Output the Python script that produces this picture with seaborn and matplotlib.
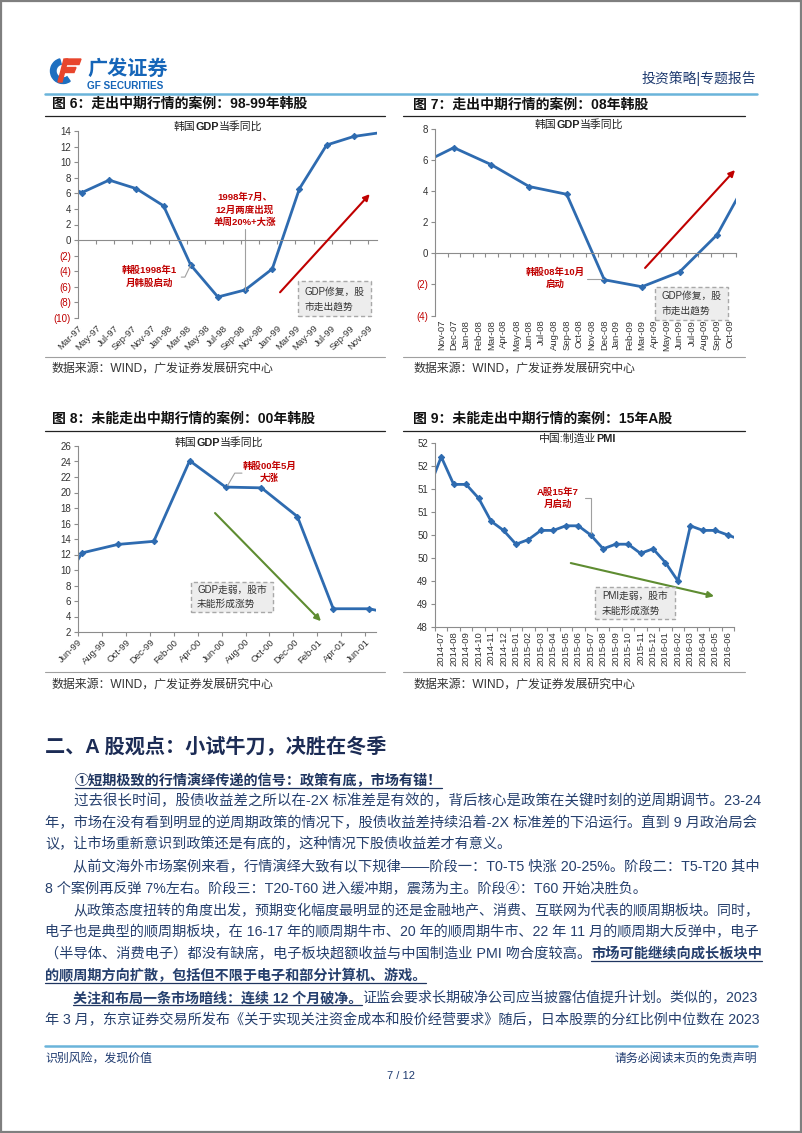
import numpy as np
import pandas as pd
import matplotlib
matplotlib.use('Agg')
import matplotlib.pyplot as plt
import seaborn as sns
from matplotlib.patches import Rectangle, Wedge, Polygon

sns.set_theme(style='white')
plt.rcParams['font.family'] = ['Liberation Sans', 'Noto Sans CJK SC', 'DejaVu Sans']
plt.rcParams['axes.unicode_minus'] = False

# ---------------- data ----------------
# Fig 6: Korea GDP yoy, x = months since Mar-97
f6_months = [-2.56, 0.44, 3.44, 6.44, 9.44, 12.44, 15.44, 18.44, 21.44, 24.44, 27.44, 30.44, 33.44]
f6_gdp = [7.5, 6.1, 7.7, 6.6, 4.4, -3.2, -7.3, -6.4, -3.7, 6.6, 12.2, 13.3, 13.8]
f6_tick_pos = [0, 2, 4, 6, 8, 10, 12, 14, 16, 18, 20, 22, 24, 26, 28, 30, 32]
f6_tick_labels = ['Mar-97', 'May-97', 'Jul-97', 'Sep-97', 'Nov-97', 'Jan-98', 'Mar-98', 'May-98',
                  'Jul-98', 'Sep-98', 'Nov-98', 'Jan-99', 'Mar-99', 'May-99', 'Jul-99', 'Sep-99', 'Nov-99']
f6_yticks = [-10, -8, -6, -4, -2, 0, 2, 4, 6, 8, 10, 12, 14]
f6_ylabels = ['(10)', '(8)', '(6)', '(4)', '(2)', '0', '2', '4', '6', '8', '10', '12', '14']

# Fig 7: Korea GDP yoy, monthly category axis
f7_categories = ['Nov-07', 'Dec-07', 'Jan-08', 'Feb-08', 'Mar-08', 'Apr-08', 'May-08', 'Jun-08',
                 'Jul-08', 'Aug-08', 'Sep-08', 'Oct-08', 'Nov-08', 'Dec-08', 'Jan-09', 'Feb-09',
                 'Mar-09', 'Apr-09', 'May-09', 'Jun-09', 'Jul-09', 'Aug-09', 'Sep-09', 'Oct-09']
f7_index = [-2, 1, 4, 7, 10, 13, 16, 19, 22, 25]
f7_gdp = [5.6, 6.8, 5.7, 4.3, 3.8, -1.7, -2.15, -1.2, 1.2, 5.6]
f7_yticks = [-4, -2, 0, 2, 4, 6, 8]
f7_ylabels = ['(4)', '(2)', '0', '2', '4', '6', '8']

# Fig 8: Korea GDP yoy, x = months since Jun-99
f8_months = [-2.67, 0.33, 3.33, 6.33, 9.33, 12.33, 15.33, 18.33, 21.33, 24.33, 27.33]
f8_gdp = [4.4, 12.2, 13.3, 13.7, 24.1, 20.7, 20.6, 16.9, 5.0, 5.0, 4.0]
f8_tick_pos = [0, 2, 4, 6, 8, 10, 12, 14, 16, 18, 20, 22, 24]
f8_tick_labels = ['Jun-99', 'Aug-99', 'Oct-99', 'Dec-99', 'Feb-00', 'Apr-00', 'Jun-00', 'Aug-00',
                  'Oct-00', 'Dec-00', 'Feb-01', 'Apr-01', 'Jun-01']
f8_yticks = [2, 4, 6, 8, 10, 12, 14, 16, 18, 20, 22, 24, 26]
f8_ylabels = ['2', '4', '6', '8', '10', '12', '14', '16', '18', '20', '22', '24', '26']

# Fig 9: China manufacturing PMI
f9_categories = ['2014-07', '2014-08', '2014-09', '2014-10', '2014-11', '2014-12', '2015-01', '2015-02',
                 '2015-03', '2015-04', '2015-05', '2015-06', '2015-07', '2015-08', '2015-09', '2015-10',
                 '2015-11', '2015-12', '2016-01', '2016-02', '2016-03', '2016-04', '2016-05', '2016-06']
f9_index = [-1, 0, 1, 2, 3, 4, 5, 6, 7, 8, 9, 10, 11, 12, 13, 14, 15, 16, 17, 18, 19, 20, 21, 22, 23, 24]
f9_pmi = [51.0, 51.7, 51.1, 51.1, 50.8, 50.3, 50.1, 49.8, 49.9, 50.1, 50.1, 50.2, 50.2,
          50.0, 49.7, 49.8, 49.8, 49.6, 49.7, 49.4, 49.0, 50.2, 50.1, 50.1, 50.0, 49.9]
f9_yticks = [48, 48.5, 49, 49.5, 50, 50.5, 51, 51.5, 52]
f9_ylabels = ['48', '49', '49', '50', '50', '51', '51', '52', '52']

# ---------------- figure ----------------
W, H = 802, 1133
fig = plt.figure(figsize=(W / 100, H / 100), dpi=100)
fig.patch.set_facecolor('white')

pax = fig.add_axes([0, 0, 1, 1], zorder=0)
pax.set_xlim(0, W)
pax.set_ylim(H, 0)
pax.axis('off')

renderer = fig.canvas.get_renderer()

LINE = '#2E6BB0'
RED = '#C00000'
GREEN = '#5E8C31'
NAVY = '#1F3B70'
BODY = '#26406E'
AXC = '#8C8C8C'
TXT = '#333333'


def add_ax(x0, y0, x1, y1):
    return fig.add_axes([x0 / W, 1 - y1 / H, (x1 - x0) / W, (y1 - y0) / H], zorder=1)


def seg_width(s, fs, bold):
    t = pax.text(0, 0, s, fontsize=fs, fontweight='bold' if bold else 'normal')
    w = t.get_window_extent(renderer=renderer).width
    t.remove()
    return w


def draw_segs(x, y, segs, fs, color, ha='left', underline_color=None):
    widths = [seg_width(s, fs, 'b' in st) for s, st in segs]
    total = sum(widths)
    if ha == 'center':
        x = x - total / 2
    elif ha == 'right':
        x = x - total
    base = y + 0.36 * fs * 100 / 72
    for (s, st), w in zip(segs, widths):
        pax.text(x, base, s, fontsize=fs, fontweight='bold' if 'b' in st else 'normal',
                 color=color, va='baseline', ha='left')
        if 'u' in st:
            pax.plot([x, x + w], [base + 3, base + 3], color=underline_color or color, lw=0.9)
        x += w
    return total


def style_chart(ax, xlim, ylim, yticks, ylabels, mark_pos, lab_pos, labels, rot, zero_axis):
    ax.set_facecolor('none')
    ax.set_xlim(*xlim)
    ax.set_ylim(*ylim)
    for s in ['top', 'right']:
        ax.spines[s].set_visible(False)
    for s in ['left', 'bottom']:
        ax.spines[s].set_color(AXC)
        ax.spines[s].set_linewidth(0.8)
    if zero_axis:
        ax.spines['bottom'].set_position(('data', 0))
    ax.set_yticks(yticks, labels=ylabels)
    ax.tick_params(axis='y', left=True, length=3, width=0.8, color=AXC, labelsize=7,
                   labelcolor=TXT, pad=2)
    for lbl in ax.get_yticklabels():
        if lbl.get_text().startswith('('):
            lbl.set_color(RED)
    ax.set_xticks(mark_pos)
    ax.tick_params(axis='x', bottom=True, length=3, width=0.8, color=AXC, labelbottom=False,
                   direction='out')
    ax.set_xlabel('')
    ax.set_ylabel('')
    sec = ax.secondary_xaxis('bottom')
    sec.spines['bottom'].set_visible(False)
    if rot == 45:
        sec.set_xticks(lab_pos, labels=labels, rotation=45, ha='right', va='top',
                       rotation_mode='anchor', fontsize=6.8, color=TXT)
        sec.tick_params(length=0, pad=4)
    else:
        sec.set_xticks(lab_pos, labels=labels, rotation=90, ha='center', va='top',
                       fontsize=6.8, color=TXT)
        sec.tick_params(length=0, pad=3)


def plot_line(ax, xs, ys):
    sns.lineplot(x=xs, y=ys, ax=ax, color=LINE, linewidth=2.0, marker='D', markersize=3.2,
                 markeredgecolor=LINE, sort=False, estimator=None)


def note_box(ax, x0, x1, y0, y1, text):
    ax.add_patch(Rectangle((x0, y0), x1 - x0, y1 - y0, facecolor='#EDEDED', edgecolor='#A8A8A8',
                           linestyle=(0, (3, 2)), lw=1.0, clip_on=False, zorder=3))
    ax.text((x0 + x1) / 2, (y0 + y1) / 2, text, fontsize=7, color=TXT, ha='center', va='center',
            multialignment='left', linespacing=1.6, zorder=4)


def arrow(ax, start, end, color):
    ax.annotate('', xy=end, xytext=start, annotation_clip=False,
                arrowprops=dict(arrowstyle='-|>', color=color, lw=1.5, mutation_scale=9,
                                shrinkA=0, shrinkB=0))


def red_note(ax, x, y, text):
    ax.text(x, y, text, fontsize=6.8, fontweight='bold', color=RED, ha='center', va='center',
            linespacing=1.45, zorder=4)


def leader(ax, xs, ys):
    ax.plot(xs, ys, color='#A0A0A0', lw=0.8, clip_on=False, zorder=2)


# ---------------- page frame / header ----------------
pax.add_patch(Rectangle((1, 1), W - 2, H - 2, fill=False, ec='#7F7F7F', lw=1.6))

# logo
pax.add_patch(Wedge((63, 71), 12.5, 55, 255, width=5.5, color='#1E6FC0'))
pax.add_patch(Polygon([[66, 59], [81, 59], [79, 64.5], [64, 64.5]], closed=True, color='#E8452C'))
pax.add_patch(Polygon([[64, 67.5], [76, 67.5], [74, 72.5], [62.5, 72.5]], closed=True, color='#E8452C'))
pax.add_patch(Polygon([[64, 59], [68, 59], [62, 82], [58, 82]], closed=True, color='#E8452C'))
pax.text(87, 69, '广发证券', fontsize=14.5, fontweight='bold', color='#1565B8', va='center', ha='left')
pax.text(87, 86, 'GF SECURITIES', fontsize=7.2, fontweight='bold', color='#1565B8', va='center', ha='left')

draw_segs(756, 78, [('投资策略|专题报告', 'n')], 10, NAVY, ha='right')
pax.plot([45, 757], [94, 94], color='#6AB4DA', lw=1.8)

# chart titles / rules
draw_segs(52, 103, [('图 6：走出中期行情的案例：98-99年韩股', 'b')], 10, '#111111')
draw_segs(413, 104, [('图 7：走出中期行情的案例：08年韩股', 'b')], 10, '#111111')
draw_segs(52, 418, [('图 8：未能走出中期行情的案例：00年韩股', 'b')], 10, '#111111')
draw_segs(413, 418, [('图 9：未能走出中期行情的案例：15年A股', 'b')], 10, '#111111')
for (xa, xb) in [(45, 385), (403, 745)]:
    pax.plot([xa, xb], [115.5, 115.5], color='#222222', lw=0.9)
    pax.plot([xa, xb], [357, 357], color='#A0A0A0', lw=0.8)
    pax.plot([xa, xb], [431, 431], color='#222222', lw=0.9)
    pax.plot([xa, xb], [672, 672], color='#A0A0A0', lw=0.8)
src = '数据来源：WIND，广发证券发展研究中心'
draw_segs(52, 367, [(src, 'n')], 8.6, TXT)
draw_segs(413, 367, [(src, 'n')], 8.6, TXT)
draw_segs(52, 683, [(src, 'n')], 8.6, TXT)
draw_segs(413, 683, [(src, 'n')], 8.6, TXT)

draw_segs(218, 126, [('韩国', 'n'), ('GDP', 'b'), ('当季同比', 'n')], 7.8, '#222222', ha='center')
draw_segs(579, 124, [('韩国', 'n'), ('GDP', 'b'), ('当季同比', 'n')], 7.8, '#222222', ha='center')
draw_segs(219, 442, [('韩国', 'n'), ('GDP', 'b'), ('当季同比', 'n')], 7.8, '#222222', ha='center')
draw_segs(577, 438, [('中国:制造业', 'n'), ('PMI', 'b')], 7.8, '#222222', ha='center')

# ---------------- chart 6 ----------------
ax6 = add_ax(78, 131, 377, 318)
plot_line(ax6, f6_months, f6_gdp)
style_chart(ax6, (0, 33), (-10, 14), f6_yticks, f6_ylabels, f6_tick_pos, f6_tick_pos,
            f6_tick_labels, 45, True)
red_note(ax6, 18.4, 3.85, '1998年7月、\n12月两度出现\n单周20%+大涨')
leader(ax6, [18.44, 18.44], [1.4, -6.4])
red_note(ax6, 7.9, -4.75, '韩股1998年1\n月韩股启动')
leader(ax6, [11.4, 11.8, 12.44], [-4.75, -4.75, -3.2])
arrow(ax6, (22.3, -6.7), (32.2, 5.9), RED)
note_box(ax6, 24.3, 32.3, -9.8, -5.3, 'GDP修复，股\n市走出趋势')

# ---------------- chart 7 ----------------
ax7 = add_ax(435, 129, 736, 315.5)
plot_line(ax7, f7_index, f7_gdp)
f7_marks = [i - 0.5 for i in range(len(f7_categories) + 1)]
style_chart(ax7, (-0.5, len(f7_categories) - 0.5), (-4, 8), f7_yticks, f7_ylabels, f7_marks,
            list(range(len(f7_categories))), f7_categories, 90, True)
red_note(ax7, 9.07, -1.6, '韩股08年10月\n启动')
leader(ax7, [11.6, 12.9], [-1.65, -1.65])
arrow(ax7, (16.25, -0.94), (23.42, 5.36), RED)
note_box(ax7, 17.04, 22.86, -4.29, -2.17, 'GDP修复，股\n市走出趋势')

# ---------------- chart 8 ----------------
ax8 = add_ax(78, 446, 376, 632)
plot_line(ax8, f8_months, f8_gdp)
style_chart(ax8, (0, 24.9), (2, 26), f8_yticks, f8_ylabels, f8_tick_pos, f8_tick_pos,
            f8_tick_labels, 45, False)
red_note(ax8, 16.0, 22.6, '韩股00年5月\n大涨')
leader(ax8, [13.7, 13.1, 12.5], [22.5, 22.5, 20.9])
arrow(ax8, (11.45, 17.35), (20.3, 3.4), GREEN)
note_box(ax8, 9.44, 16.3, 4.6, 8.45, 'GDP走弱，股市\n未能形成涨势')

# ---------------- chart 9 ----------------
ax9 = add_ax(435, 443, 734, 627)
plot_line(ax9, f9_index, f9_pmi)
f9_marks = [i - 0.5 for i in range(len(f9_categories) + 1)]
style_chart(ax9, (-0.5, len(f9_categories) - 0.5), (48, 52), f9_yticks, f9_ylabels, f9_marks,
            list(range(len(f9_categories))), f9_categories, 90, False)
red_note(ax9, 9.37, 50.8, 'A股15年7\n月启动')
leader(ax9, [11.5, 12.0, 12.0], [50.8, 50.8, 50.05])
arrow(ax9, (10.4, 49.39), (21.9, 48.67), GREEN)
note_box(ax9, 12.34, 18.76, 48.17, 48.87, 'PMI走弱，股市\n未能形成涨势')

# ---------------- body text ----------------
draw_segs(45, 745, [('二、A 股观点：小试牛刀，决胜在冬季', 'b')], 14.5, '#1C2C55')
draw_segs(75, 780, [('①短期极致的行情演绎传递的信号：政策有底，市场有锚！', 'bu')], 10.2, '#1F3560')

body_lines = [
    (800, True, True, [('过去很长时间，股债收益差之所以在-2X 标准差是有效的，背后核心是政策在关键时刻的逆周期调节。23-24', 'n')]),
    (822, False, True, [('年，市场在没有看到明显的逆周期政策的情况下，股债收益差持续沿着-2X 标准差的下沿运行。直到 9 月政治局会', 'n')]),
    (843, False, False, [('议，让市场重新意识到政策还是有底的，这种情况下股债收益差才有意义。', 'n')]),
    (866, True, True, [('从前文海外市场案例来看，行情演绎大致有以下规律——阶段一：T0-T5 快涨 20-25%。阶段二：T5-T20 其中', 'n')]),
    (887, False, False, [('8 个案例再反弹 7%左右。阶段三：T20-T60 进入缓冲期，震荡为主。阶段④：T60 开始决胜负。', 'n')]),
    (910, True, True, [('从政策态度扭转的角度出发，预期变化幅度最明显的还是金融地产、消费、互联网为代表的顺周期板块。同时，', 'n')]),
    (931, False, True, [('电子也是典型的顺周期板块，在 16-17 年的顺周期牛市、20 年的顺周期牛市、22 年 11 月的顺周期大反弹中，电子', 'n')]),
    (953, False, True, [('（半导体、消费电子）都没有缺席，电子板块超额收益与中国制造业 PMI 吻合度较高。', 'n'),
                        ('市场可能继续向成长板块中', 'bu')]),
    (975, False, False, [('的顺周期方向扩散，包括但不限于电子和部分计算机、游戏。', 'bu')]),
    (997, True, True, [('关注和布局一条市场暗线：连续 12 个月破净。', 'bu'),
                       ('证监会要求长期破净公司应当披露估值提升计划。类似的，2023', 'n')]),
    (1019, False, True, [('年 3 月，东京证券交易所发布《关于实现关注资金成本和股价经营要求》随后，日本股票的分红比例中位数在 2023', 'n')]),
]

FS0 = 10.3
sizes = []
for y, ind, just, segs in body_lines:
    nat = sum(seg_width(s, FS0, 'b' in st) for s, st in segs)
    k = nat / FS0
    ind_k = 2 * 100 / 72 if ind else 0
    sizes.append(712 / (k + ind_k) if just else None)
js = [s for s in sizes if s is not None]
med = float(np.median(js))
for (y, ind, just, segs), fs in zip(body_lines, sizes):
    if fs is None:
        fs = med
    fs = min(max(fs, med - 0.6), med + 0.6)
    x0 = 45 + (2 * fs * 100 / 72 if ind else 0)
    draw_segs(x0, y, [(s, st) for s, st in segs], fs, BODY, underline_color='#1F3560')

# ---------------- footer ----------------
pax.plot([45, 757], [1046, 1046], color='#6AB4DA', lw=1.8)
draw_segs(45, 1057, [('识别风险，发现价值', 'n')], 8.6, NAVY)
draw_segs(757, 1057, [('请务必阅读末页的免责声明', 'n')], 8.6, NAVY, ha='right')
draw_segs(401, 1075, [('7 / 12', 'n')], 8, NAVY, ha='center')

fig.savefig('out.png', dpi=100, facecolor='white')
